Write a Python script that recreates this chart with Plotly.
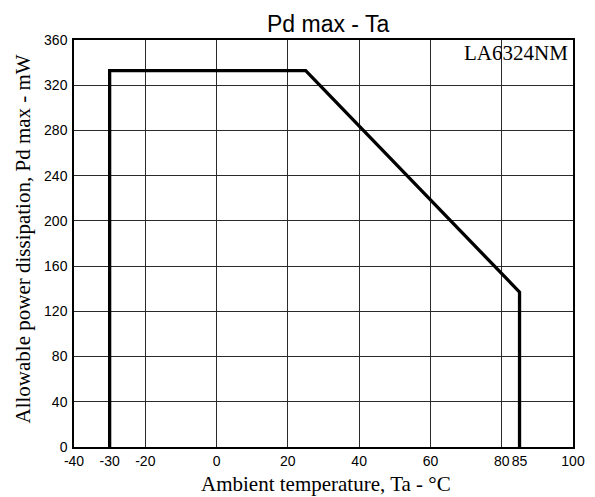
import plotly.graph_objects as go

# Data
temp_c = [-30, -30, 25, 85, 85]
pd_mw = [0, 333, 333, 137, 0]
x_tick_vals = [-40, -30, -20, 0, 20, 40, 60, 80, 85, 100]
x_tick_text = ["-40", "-30", "-20", "0", "20", "40", "60", "80", "85", "100"]
x_grid_vals = [-40, -20, 0, 20, 40, 60, 80, 100]
y_tick_vals = [0, 40, 80, 120, 160, 200, 240, 280, 320, 360]
chart_title = "Pd max - Ta"
device = "LA6324NM"
x_title = "Ambient temperature, Ta - °C"
y_title = "Allowable power dissipation, Pd max - mW"

fig = go.Figure()
fig.add_trace(go.Scatter(x=temp_c, y=pd_mw, mode="lines",
                         line=dict(color="black", width=3.3),
                         showlegend=False, cliponaxis=False))
# invisible trace to anchor secondary x axis
fig.add_trace(go.Scatter(x=[-40, 100], y=[0, 0], xaxis="x2", mode="lines",
                         line=dict(width=0), showlegend=False, hoverinfo="skip"))

serif = "Liberation Serif, Times New Roman"
sans = "Liberation Sans, Arial"

fig.update_layout(
    width=595, height=497,
    margin=dict(l=66, r=30, t=32, b=58, autoexpand=False),
    paper_bgcolor="white", plot_bgcolor="white",
    xaxis=dict(range=[-40, 100], tickvals=x_grid_vals, showticklabels=False,
               showgrid=True, gridcolor="#2a2a2a", gridwidth=1, automargin=False,
               showline=True, linecolor="black", linewidth=1.5, mirror=True,
               zeroline=False, ticks=""),
    xaxis2=dict(range=[-40, 100], overlaying="x", side="bottom", anchor="y",
                tickvals=x_tick_vals, ticktext=x_tick_text, showgrid=False,
                zeroline=False, ticks="", ticklen=0, tickangle=0, automargin=False,
                ticklabelstandoff=4,
                tickfont=dict(family=sans, size=14, color="black")),
    yaxis=dict(range=[0, 360], tickvals=y_tick_vals, showgrid=True,
               gridcolor="#2a2a2a", gridwidth=1, automargin=False,
               showline=True, linecolor="black", linewidth=1.5, mirror=True,
               zeroline=False, ticks="", ticklabelstandoff=2,
               tickfont=dict(family=sans, size=14, color="black")),
    annotations=[
        dict(text=chart_title, xref="paper", yref="paper", x=0.5, y=1, xshift=4, yshift=1,
             xanchor="center", yanchor="bottom", showarrow=False,
             font=dict(family=sans, size=23, color="black")),
        dict(text=device, xref="paper", yref="paper", x=1, y=1, xshift=-3, yshift=1,
             xanchor="right", yanchor="top", showarrow=False,
             font=dict(family=serif, size=21, color="black")),
        dict(text=x_title, xref="paper", yref="paper", x=0.5, y=0, xshift=2, yshift=-37,
             xanchor="center", yanchor="middle", showarrow=False,
             font=dict(family=serif, size=21, color="black")),
        dict(text=y_title, xref="paper", yref="paper", x=0, y=0.5, xshift=-52, yshift=4,
             xanchor="center", yanchor="middle", showarrow=False, textangle=-90,
             font=dict(family=serif, size=21, color="black")),
    ],
)

fig.write_html("out.html")
